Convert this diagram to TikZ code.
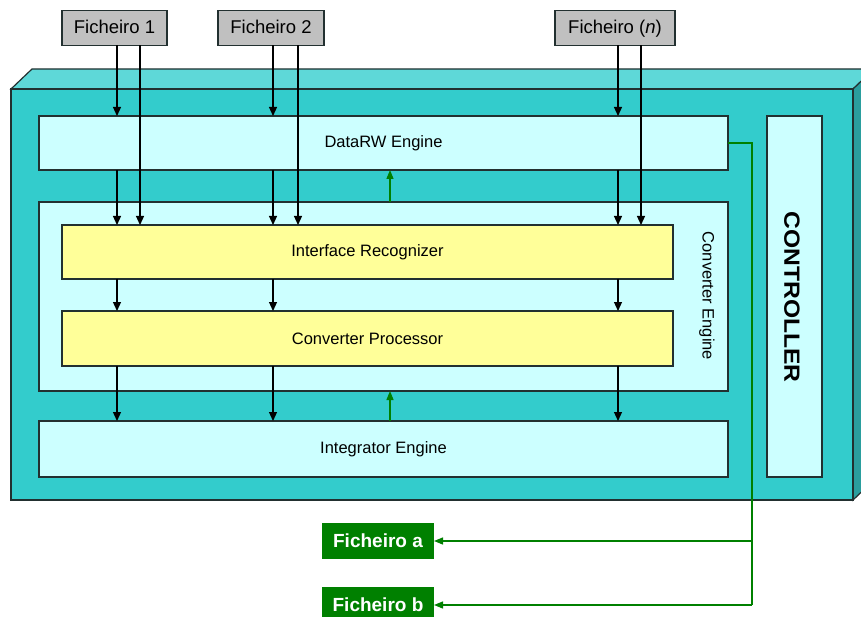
\documentclass[tikz,border=0pt]{standalone}
\usepackage{fontspec}
\setmainfont{Liberation Sans}
\usetikzlibrary{arrows.meta}
\definecolor{tealfront}{HTML}{33CCCC}
\definecolor{tealtop}{HTML}{5ED8D8}
\definecolor{tealside}{HTML}{2A9E9E}
\definecolor{lightcyan}{HTML}{CCFFFF}
\definecolor{paleyellow}{HTML}{FFFF99}
\definecolor{filegray}{HTML}{C0C0C0}
\definecolor{darkgreen}{HTML}{008000}
\definecolor{edgegray}{HTML}{223030}
\tikzset{
  every node/.style={inner sep=0pt, outer sep=0pt},
  infile/.style={draw=edgegray, line width=1.2pt, fill=filegray,
    text height=16pt, text depth=4pt,
    font=\fontsize{18.5}{20}\selectfont},
  engine/.style={draw=edgegray, line width=1.2pt, fill=lightcyan,
    font=\fontsize{16.5}{18}\selectfont},
  module/.style={draw=edgegray, line width=1.2pt, fill=paleyellow,
    font=\fontsize{16.5}{18}\selectfont},
  outfile/.style={fill=darkgreen, text=white,
    text height=17pt, text depth=4pt,
    font=\fontsize{19}{21}\selectfont\bfseries},
  flow/.style={line width=1.2pt, black,
    -{Triangle[length=9pt,width=8pt]}},
  ctrlflow/.style={line width=1.3pt, darkgreen,
    -{Triangle[length=9pt,width=7pt]}},
  ctrlline/.style={line width=1.3pt, darkgreen},
  shell/.style={draw=edgegray, line width=1.2pt}
}
\begin{document}
\begin{tikzpicture}[x=1pt, y=-1pt]
\useasboundingbox (0,0) rectangle (861,617);
\clip (0,0) rectangle (861,617);

% outer housing drawn as a box with top and side faces
\fill[tealtop, shell] (11,89) -- (32,69) -- (874,69) -- (853,89) -- cycle;
\fill[tealside, shell] (853,89) -- (874,69) -- (874,480) -- (853,500) -- cycle;
\fill[tealfront, shell] (11,89) rectangle (853,500);

% input files
\node[infile, minimum width=105pt, minimum height=35pt] (f1) at (114.5,28) {Ficheiro 1};
\node[infile, minimum width=106pt, minimum height=35pt] (f2) at (271,28) {Ficheiro 2};
\node[infile, minimum width=120pt, minimum height=35pt] (fn) at (615,28) {Ficheiro (\textit{n})};

% engines and modules
\node[engine, minimum width=689pt, minimum height=54pt] (data) at (383.5,143) {DataRW Engine};
\node[engine, minimum width=689pt, minimum height=189pt] (conv) at (383.5,296.5) {};
\node[font=\fontsize{16.5}{18}\selectfont, rotate=-90] (convlabel) at (707,296) {Converter Engine};
\node[module, minimum width=611pt, minimum height=54pt] (ir) at (367.5,252) {Interface Recognizer};
\node[module, minimum width=611pt, minimum height=55pt] (cp) at (367.5,338.5) {Converter Processor};
\node[engine, minimum width=689pt, minimum height=56pt] (integ) at (383.5,449) {Integrator Engine};

% controller column
\node[engine, minimum width=55pt, minimum height=361pt] (ctrl) at (794.5,296.5) {};
\node[rotate=-90, font=\fontsize{22}{24}\selectfont\bfseries] (ctrllabel) at (792,297)
  {\scalebox{1.12}[1]{CONTROLLER}};

% output files
\node[outfile, minimum width=112pt, minimum height=36pt] (fa) at (378,541) {Ficheiro a};
\node[outfile, minimum width=112pt, minimum height=36pt] (fb) at (378,605) {Ficheiro b};

% columns of the data paths
\coordinate (c1) at (117,0);
\coordinate (c2) at (140,0);
\coordinate (c3) at (273,0);
\coordinate (c4) at (298,0);
\coordinate (c5) at (618,0);
\coordinate (c6) at (641,0);
\coordinate (cg) at (390,0);
\coordinate (gx) at (752,0);

% file 1
\draw[flow] (f1.south -| c1) -- (data.north -| c1);
\draw[flow] (data.south -| c1) -- (ir.north -| c1);
\draw[flow] (ir.south -| c1) -- (cp.north -| c1);
\draw[flow] (cp.south -| c1) -- (integ.north -| c1);
\draw[flow] (f1.south -| c2) -- (ir.north -| c2);
% file 2
\draw[flow] (f2.south -| c3) -- (data.north -| c3);
\draw[flow] (data.south -| c3) -- (ir.north -| c3);
\draw[flow] (ir.south -| c3) -- (cp.north -| c3);
\draw[flow] (cp.south -| c3) -- (integ.north -| c3);
\draw[flow] (f2.south -| c4) -- (ir.north -| c4);
% file n
\draw[flow] (fn.south -| c5) -- (data.north -| c5);
\draw[flow] (data.south -| c5) -- (ir.north -| c5);
\draw[flow] (ir.south -| c5) -- (cp.north -| c5);
\draw[flow] (cp.south -| c5) -- (integ.north -| c5);
\draw[flow] (fn.south -| c6) -- (ir.north -| c6);

% feedback between engines
\draw[ctrlflow] (conv.north -| cg) -- (data.south -| cg);
\draw[ctrlflow] (integ.north -| cg) -- (conv.south -| cg);

% output distribution
\draw[ctrlline] (data.east) -- (data.east -| gx) -- (fb.east -| gx);
\draw[ctrlflow] (fa.east -| gx) -- (fa.east);
\draw[ctrlflow] (fb.east -| gx) -- (fb.east);
\end{tikzpicture}
\end{document}
